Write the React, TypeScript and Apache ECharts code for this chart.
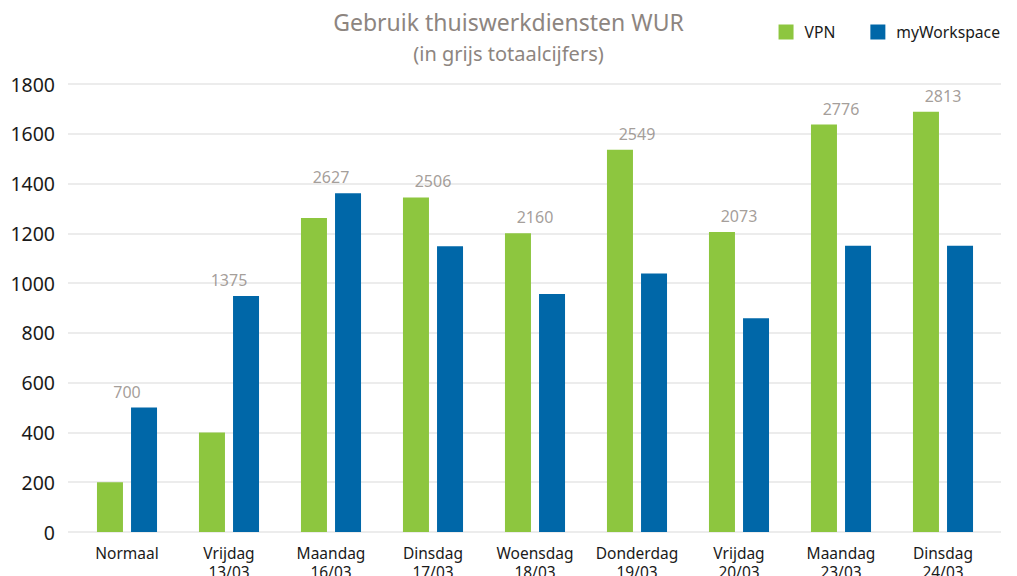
import React, { useEffect, useRef } from "react";
import * as echarts from "echarts";

const categories = [
  "Normaal",
  "Vrijdag\n13/03",
  "Maandag\n16/03",
  "Dinsdag\n17/03",
  "Woensdag\n18/03",
  "Donderdag\n19/03",
  "Vrijdag\n20/03",
  "Maandag\n23/03",
  "Dinsdag\n24/03",
];
const vpn = [200, 400, 1262, 1344, 1200, 1536, 1205, 1637, 1689];
const myWorkspace = [500, 948, 1361, 1148, 956, 1039, 859, 1150, 1150];
const totals = [700, 1375, 2627, 2506, 2160, 2549, 2073, 2776, 2813];
const yTicks = [0, 200, 400, 600, 800, 1000, 1200, 1400, 1600, 1800];

const FONT = "'Noto Sans', sans-serif";
const GREEN = "#8dc63f";
const BLUE = "#0067a8";
const GREY = "#8d8580";

export default function App() {
  const ref = useRef<HTMLDivElement>(null);
  useEffect(() => {
    if (!ref.current) return;
    const chart = echarts.init(ref.current, null, { renderer: "svg" });
    const tops = vpn.map((v, i) => Math.max(v, myWorkspace[i]));
    chart.setOption({
      animation: false,
      textStyle: { fontFamily: FONT },
      title: {
        text: "Gebruik thuiswerkdiensten WUR",
        subtext: "(in grijs totaalcijfers)",
        left: "center",
        top: 5,
        itemGap: 10,
        textStyle: { fontFamily: FONT, fontSize: 23, fontWeight: "normal", color: GREY },
        subtextStyle: { fontFamily: FONT, fontSize: 20, color: GREY },
      },
      legend: {
        right: 12,
        top: 19,
        icon: "rect",
        itemWidth: 15,
        itemHeight: 15,
        itemGap: 35,
        textStyle: { fontFamily: FONT, fontSize: 15.7, color: "#1a1a1a", padding: [0, 0, 0, 6] },
        data: ["VPN", "myWorkspace"],
      },
      grid: [
        { left: 68, right: 16, top: 84, bottom: 44, outerBoundsMode: "none" },
        { left: 76, right: 23, top: 84, bottom: 44, outerBoundsMode: "none" },
      ],
      xAxis: [
        { gridIndex: 0, type: "value", show: false, min: 0, max: 1 },
        {
          gridIndex: 1,
          type: "category",
          data: categories,
          axisLine: { show: false },
          axisTick: { show: false },
          axisLabel: {
            interval: 0,
            fontFamily: FONT,
            fontSize: 15.5,
            lineHeight: 19,
            color: "#1a1a1a",
            margin: 11,
          },
        },
      ],
      yAxis: [
        {
          gridIndex: 0,
          type: "value",
          min: yTicks[0],
          max: yTicks[yTicks.length - 1],
          interval: yTicks[1] - yTicks[0],
          axisLine: { show: false },
          axisTick: { show: false },
          axisLabel: {
            fontFamily: FONT,
            fontSize: 19.5,
            color: "#1a1a1a",
            margin: 13,
            formatter: (v: number) => String(v),
          },
          splitLine: { lineStyle: { color: "#e6e6e6", width: 1.5 } },
        },
        {
          gridIndex: 1,
          type: "value",
          min: yTicks[0],
          max: yTicks[yTicks.length - 1],
          interval: yTicks[1] - yTicks[0],
          show: false,
          splitLine: { show: false },
        },
      ],
      series: [
        {
          name: "VPN",
          type: "bar",
          xAxisIndex: 1,
          yAxisIndex: 1,
          data: vpn,
          barWidth: 26,
          barGap: "31%",
          itemStyle: { color: GREEN },
        },
        {
          name: "myWorkspace",
          type: "bar",
          xAxisIndex: 1,
          yAxisIndex: 1,
          data: myWorkspace,
          barWidth: 26,
          barGap: "31%",
          itemStyle: { color: BLUE },
        },
        {
          name: "Totaal",
          type: "scatter",
          xAxisIndex: 1,
          yAxisIndex: 1,
          symbolSize: 0.001,
          itemStyle: { color: "rgba(0,0,0,0)" },
          silent: true,
          data: tops.map((t, i) => ({
            value: t,
            label: { formatter: String(totals[i]) },
          })),
          label: {
            show: true,
            position: "top",
            distance: 8,
            fontFamily: FONT,
            fontSize: 16,
            color: GREY,
          },
        },
      ],
    });
    return () => chart.dispose();
  }, []);
  return (
    <div
      ref={ref}
      style={{ position: "fixed", left: 0, top: 0, width: 1017, height: 576, background: "#fff" }}
    />
  );
}
